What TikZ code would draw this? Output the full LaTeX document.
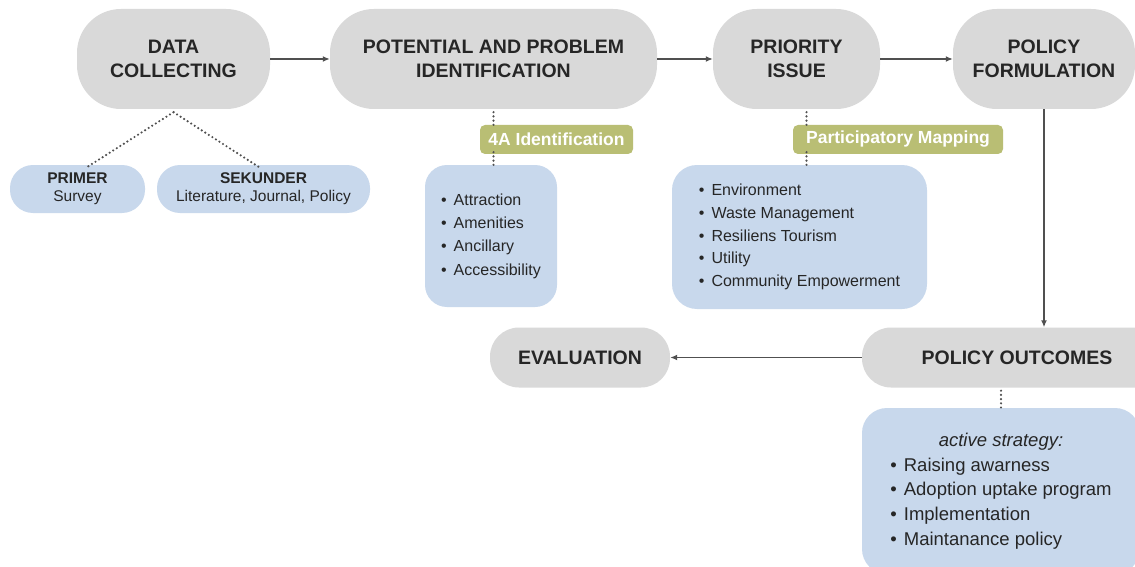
\documentclass[tikz,border=0pt]{standalone}
\usepackage{fontspec}
\setmainfont{Liberation Sans}
\usetikzlibrary{arrows.meta}
\definecolor{pillgrey}{HTML}{D9D9D9}
\definecolor{boxblue}{HTML}{C8D8EC}
\definecolor{tagolive}{HTML}{B9BE74}
\definecolor{txt}{HTML}{262626}
\definecolor{arr}{HTML}{505050}
\begin{document}
\begin{tikzpicture}[x=1pt,y=-1pt,
  pill/.style={fill=pillgrey, inner sep=0pt, align=center, text=txt,
    font=\fontsize{19.5}{24}\selectfont\bfseries},
  bluebox/.style={fill=boxblue, inner sep=0pt, text=txt},
  tagbox/.style={fill=tagolive, rounded corners=5pt, text=white, inner sep=0pt,
    font=\fontsize{17.5}{20}\selectfont\bfseries},
  flow/.style={draw=arr, line width=1.5pt, -{Latex[length=7pt,width=6pt]}},
  dots/.style={draw=arr, line width=2.4pt, line cap=round, dash pattern=on 0pt off 4.2pt}]
\useasboundingbox (0,0) rectangle (1135,567);
\fill[white] (0,0) rectangle (1135,567);
\clip (0,0) rectangle (1135,567);

% main grey pills
\node[pill, rounded corners=44pt, minimum width=193pt, minimum height=100pt] (dc) at (173.5,59) {DATA\\COLLECTING};
\node[pill, rounded corners=44pt, minimum width=327pt, minimum height=100pt] (pp) at (493.5,59) {POTENTIAL AND PROBLEM\\IDENTIFICATION};
\node[pill, rounded corners=44pt, minimum width=167pt, minimum height=100pt] (pi) at (796.5,59) {PRIORITY\\ISSUE};
\node[pill, rounded corners=44pt, minimum width=182pt, minimum height=100pt] (pf) at (1044,59) {POLICY\\FORMULATION};
\node[pill, rounded corners=29pt, minimum width=180pt, minimum height=60pt] (ev) at (580,357.5) {EVALUATION};
\node[pill, rounded corners=29pt, minimum width=310pt, minimum height=60pt] (po) at (1017,357.5) {POLICY OUTCOMES};

% blue boxes
\node[bluebox, rounded corners=23pt, minimum width=135pt, minimum height=48pt, align=center,
  font=\fontsize{15.5}{18}\selectfont] (primer) at (77.5,189) {\textbf{PRIMER}\\Survey};
\node[bluebox, rounded corners=23pt, minimum width=213pt, minimum height=48pt, align=center,
  font=\fontsize{15.5}{18}\selectfont] (sek) at (263.5,189) {\textbf{SEKUNDER}\\Literature, Journal, Policy};
\node[bluebox, rounded corners=22pt, minimum width=132pt, minimum height=142pt, align=left,
  font=\fontsize{16}{23.3}\selectfont] (attr) at (491,236)
  {\textbullet\hspace{7pt}Attraction\\\textbullet\hspace{7pt}Amenities\\\textbullet\hspace{7pt}Ancillary\\\textbullet\hspace{7pt}Accessibility};
\node[bluebox, rounded corners=25pt, minimum width=255pt, minimum height=144pt, align=left,
  font=\fontsize{16}{22.7}\selectfont] (env) at (799.5,237)
  {\textbullet\hspace{7pt}Environment\\\textbullet\hspace{7pt}Waste Management\\\textbullet\hspace{7pt}Resiliens Tourism\\\textbullet\hspace{7pt}Utility\\\textbullet\hspace{7pt}Community Empowerment};
\node[bluebox, rounded corners=25pt, minimum width=278pt, minimum height=166pt,
  font=\fontsize{18.5}{24.6}\selectfont] (act) at (1001,491)
  {\renewcommand{\arraystretch}{1}\begin{tabular}{@{}l@{}}
   \multicolumn{1}{c}{\itshape active strategy:}\\
   \textbullet\hspace{7pt}Raising awarness\\
   \textbullet\hspace{7pt}Adoption uptake program\\
   \textbullet\hspace{7pt}Implementation\\
   \textbullet\hspace{7pt}Maintanance policy
   \end{tabular}};

% olive tags
\node[tagbox, minimum width=153pt, minimum height=29pt] (a4) at (556.5,139.5) {4A Identification};
\node[tagbox, minimum width=210pt, minimum height=29pt] (pm) at (898,139.5) {Participatory Mapping};

% flow arrows
\draw[flow] (dc) -- (pp);
\draw[flow] (pp) -- (pi);
\draw[flow] (pi) -- (pf);
\draw[flow] (pf.south) -- (pf.south |- po.north);
\draw[flow] (po.west) -- (ev.east);

% dotted links
\draw[dots] ([yshift=-3pt]dc.south) -- ([xshift=10pt,yshift=-2pt]primer.north);
\draw[dots] ([yshift=-3pt]dc.south) -- ([xshift=-5pt,yshift=-2pt]sek.north);
\draw[dots] ([yshift=-3pt]pp.south) -- ([yshift=-2pt]pp.south |- a4.north);
\draw[dots] ([yshift=2pt]pp.south |- a4.south) -- ([yshift=-2pt]pp.south |- attr.north);
\draw[dots] ([xshift=10pt,yshift=-3pt]pi.south) -- ([xshift=10pt,yshift=-2pt]pi.south |- pm.north);
\draw[dots] ([xshift=10pt,yshift=2pt]pi.south |- pm.south) -- ([xshift=10pt,yshift=-2pt]pi.south |- env.north);
\draw[dots] ([yshift=-3pt]act.north |- po.south) -- ([yshift=-2pt]act.north);
\end{tikzpicture}
\end{document}
